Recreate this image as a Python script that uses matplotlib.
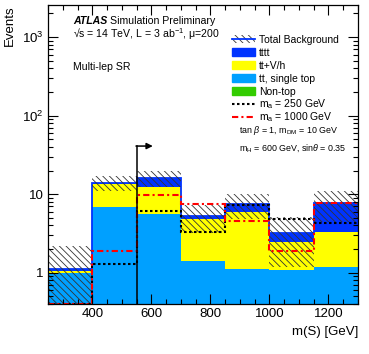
import numpy as np
import matplotlib
matplotlib.use("Agg")
import matplotlib.pyplot as plt
from matplotlib.patches import Patch
from matplotlib.lines import Line2D
from matplotlib.ticker import MultipleLocator, LogLocator, NullFormatter

plt.rcParams['font.family'] = ['Liberation Sans', 'DejaVu Sans']
plt.rcParams['mathtext.fontset'] = 'custom'
plt.rcParams['mathtext.rm'] = 'Liberation Sans'
plt.rcParams['mathtext.it'] = 'Liberation Sans:italic'
plt.rcParams['mathtext.bf'] = 'Liberation Sans:bold'
plt.rcParams['hatch.linewidth'] = 0.6

# bins in m(S) [GeV]
edges = np.array([250, 400, 550, 700, 850, 1000, 1150, 1300])

# background components (stacked, bottom to top)
non_top = np.array([0.01, 0.02, 0.02, 0.01, 0.01, 0.01, 0.01])
ttbar = np.array([0.99, 6.85, 5.58, 1.41, 1.12, 1.07, 1.16])
ttv = np.array([0.05, 6.63, 6.6, 3.41, 4.87, 1.4, 2.09])
tttt = np.array([0.05, 0.4, 3.7, 0.47, 1.5, 0.72, 4.44])
bkg_err = np.array([1.1, 3.0, 3.7, 2.05, 2.7, 2.0, 3.3])

# signals
sig_250 = np.array([0.4, 1.29, 6.2, 3.26, 7.3, 4.9, 4.25])
sig_1000 = np.array([0.4, 1.9, 9.7, 7.5, 4.6, 1.9, 7.7])

cut_value = 550
arrow_top = 41

c_tttt = '#0033ff'
c_ttv = '#ffff00'
c_tt = '#00a0ff'
c_nontop = '#33cc00'
hatch = '\\' * 5
ls_250 = (0, (1.2, 1.2))
ls_1000 = (0, (3, 1.5, 1, 1.5))

fig = plt.figure(figsize=(3.69, 3.54), dpi=100)
ax = fig.add_axes([48/369, 1-304/354, 310/369, 299.5/354])
ax.set_yscale('log')

floor = 1e-3
cum1 = non_top
cum2 = cum1 + ttbar
cum3 = cum2 + ttv
total = cum3 + tttt

ax.stairs(cum1, edges, baseline=floor, fill=True, color=c_nontop, lw=0)
ax.stairs(cum2, edges, baseline=cum1, fill=True, color=c_tt, lw=0)
ax.stairs(cum3, edges, baseline=cum2, fill=True, color=c_ttv, lw=0)
ax.stairs(total, edges, baseline=cum3, fill=True, color=c_tttt, lw=0)
ax.stairs(total, edges, baseline=None, color=c_tttt, lw=1.3)

lower = np.clip(total - bkg_err, floor, None)
upper = total + bkg_err
ax.stairs(upper, edges, baseline=lower, fill=True, facecolor='none',
          edgecolor='#333333', hatch=hatch, lw=0)

ax.stairs(sig_250, edges, baseline=None, color='black', lw=1.5, ls=ls_250)
ax.stairs(sig_1000, edges, baseline=None, color='red', lw=1.5, ls=ls_1000)

# cut arrow
ylo, yhi = 0.4, 2600
ax.plot([cut_value, cut_value], [ylo, arrow_top], color='black', lw=1.1)
ax.annotate('', xy=(cut_value + 55, arrow_top), xytext=(cut_value - 2, arrow_top),
            arrowprops=dict(arrowstyle='-|>', color='black', lw=1.1,
                            mutation_scale=9, shrinkA=0, shrinkB=0))

ax.set_xlim(edges[0], edges[-1])
ax.set_ylim(ylo, yhi)

ax.xaxis.set_major_locator(MultipleLocator(200))
ax.xaxis.set_minor_locator(MultipleLocator(50))
ax.yaxis.set_major_locator(LogLocator(base=10, numticks=10))
ax.yaxis.set_minor_locator(LogLocator(base=10, subs=np.arange(2, 10), numticks=20))
ax.yaxis.set_major_formatter(plt.FuncFormatter(
    lambda v, p: {1: '1', 10: '10', 100: r'10$^{2}$', 1000: r'10$^{3}$'}.get(int(round(v)), '')))
ax.yaxis.set_minor_formatter(NullFormatter())
ax.tick_params(which='both', direction='in', top=True, right=True, labelsize=9.5, width=0.8)
ax.tick_params(which='major', length=7, pad=3)
ax.tick_params(which='minor', length=3.5)
for s in ax.spines.values():
    s.set_linewidth(0.9)

ax.set_xlabel('m(S) [GeV]', loc='right', fontsize=9.5)
ax.xaxis.set_label_coords(1.0, -0.075)
fig.text(10/369, 1-5/354, 'Events', rotation=90, fontsize=9.5, ha='center', va='top')

# labels
fig.text(73/369, 1-21/354, 'ATLAS', fontsize=7.6, fontweight='bold', fontstyle='italic', va='center')
fig.text(110/369, 1-21/354, 'Simulation Preliminary', fontsize=7.6, va='center')
fig.text(73/369, 1-34/354, '\u221as = 14 TeV, L = 3 ab$^{-1}$, \u03bc=200', fontsize=7.6, va='center')
fig.text(73/369, 1-67/354, 'Multi-lep SR', fontsize=7.6, va='center')

leg_kw = dict(bbox_transform=fig.transFigure, frameon=False, fontsize=7.5,
              handlelength=2.2, handleheight=0.8, handletextpad=0.4,
              labelspacing=0.28, borderpad=0, borderaxespad=0)

bkg_handles = [
    (Patch(facecolor='white', edgecolor='#333333', hatch=hatch, lw=0),
     Line2D([], [], color=c_tttt, lw=1.3)),
    Patch(facecolor=c_tttt, edgecolor=c_tttt),
    Patch(facecolor=c_ttv, edgecolor=c_ttv),
    Patch(facecolor=c_tt, edgecolor=c_tt),
    Patch(facecolor=c_nontop, edgecolor=c_nontop),
]
bkg_labels = ['Total Background', 'tttt', 'tt+V/h', 'tt, single top', 'Non-top']
fig.legend(bkg_handles, bkg_labels, loc='upper left',
           bbox_to_anchor=(232/369, 1-35/354), **leg_kw)

sig_entries = [
    (Line2D([], [], color='black', lw=1.5, ls=ls_250), r'm$_{\rm a}$ = 250 GeV', 103),
    (Line2D([], [], color='red', lw=1.5, ls=ls_1000), r'm$_{\rm a}$ = 1000 GeV', 116),
]
for h, lab, ypix in sig_entries:
    fig.legend([h], [lab], loc='center left',
               bbox_to_anchor=(232/369, 1-(ypix+1.5)/354), **leg_kw)

fig.text(239/369, 1-130/354, r'tan $\beta$ = 1, m$_{\rm DM}$ = 10 GeV', fontsize=6.4, va='center')
fig.text(239/369, 1-148/354, r'm$_{\rm H}$ = 600 GeV, sin$\theta$ = 0.35', fontsize=6.4, va='center')

fig.savefig('out.png', dpi=100)
